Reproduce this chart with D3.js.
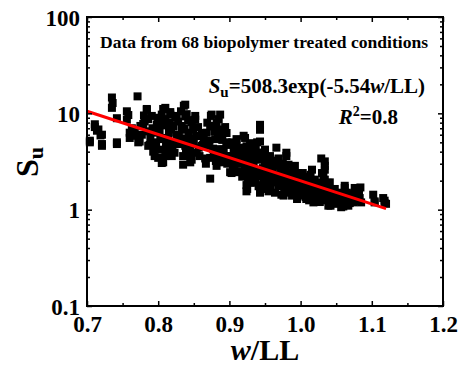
<!DOCTYPE html>
<html>
<head>
<meta charset="utf-8">
<script src="https://cdn.jsdelivr.net/npm/d3@7"></script>
<style>
  body { margin: 0; background: #fff; }
  svg text { font-family: "Liberation Serif", "DejaVu Serif", serif; font-weight: bold; }
</style>
</head>
<body>
<svg id="chart" width="462" height="365"></svg>
<script>
// measured points: [w/LL, Su]
var points = [
  [0.704,5.2],[0.704,5.0],[0.711,7.7],[0.711,7.2],[0.714,6.6],[0.716,6.8],[0.719,5.9],[0.721,6.0],[0.721,4.8],[0.721,4.6],
  [0.735,14.6],[0.735,11.4],[0.736,12.8],[0.742,8.9],[0.742,5.0],[0.742,4.8],
  [0.756,10.5],[0.756,8.6],[0.758,9.6],[0.760,6.3],[0.760,5.55],[0.767,6.5],[0.771,15.0],[0.768,5.85],[0.772,5.0],[0.774,5.1],
  [0.775,7.4],[0.779,7.75],[0.781,8.25],[0.784,10.9],[0.784,11.1],[0.786,8.7],[0.786,6.5],[0.786,4.6],[0.788,4.7],[0.791,9.4],
  [0.793,6.3],[0.793,4.0],[0.795,3.6],[0.798,7.6],[0.800,7.4],[0.800,3.45],
  [0.763,7.0],[0.777,6.0],[0.780,9.5],[0.789,5.5],[0.792,7.0],[0.797,5.0],[0.799,9.0],[0.796,4.3],
  [0.803,5.4],[0.805,9.7],[0.805,5.55],[0.805,3.05],[0.805,4.2],[0.807,11.1],[0.807,8.6],[0.807,3.1],[0.810,11.4],[0.810,8.7],
  [0.810,3.6],[0.812,4.25],[0.814,5.3],[0.815,6.3],[0.817,9.7],[0.817,10.3],[0.819,3.6],[0.821,7.3],[0.821,7.4],[0.824,9.0],
  [0.824,5.0],[0.826,9.4],[0.829,5.85],[0.833,6.75],[0.833,7.4],[0.835,3.6],[0.835,2.93],[0.836,12.0],[0.838,12.3],[0.838,9.3],
  [0.838,4.6],[0.840,5.3],[0.840,9.8],[0.841,3.6],[0.843,6.3],[0.845,4.4],[0.845,3.1],[0.847,8.1],[0.847,3.3],[0.849,6.75],[0.850,5.0],
  [0.802,6.5],[0.809,7.5],[0.811,5.0],[0.813,4.0],[0.816,8.0],[0.818,6.8],[0.820,4.6],[0.823,3.9],[0.826,6.0],[0.828,8.2],
  [0.830,4.8],[0.832,10.5],[0.834,5.5],[0.837,7.0],[0.839,4.0],[0.842,8.5],[0.844,5.5],[0.846,3.7],[0.848,4.8],
  [0.852,8.6],[0.852,9.4],[0.854,5.8],[0.854,3.9],[0.859,5.85],[0.861,6.25],[0.861,4.6],[0.863,4.7],[0.866,3.4],[0.868,6.3],
  [0.871,4.6],[0.873,7.3],[0.873,3.45],[0.873,2.1],[0.875,9.7],[0.874,9.4],[0.876,7.4],[0.878,3.6],[0.880,5.4],[0.882,7.95],
  [0.882,2.85],[0.884,5.55],[0.884,4.0],[0.885,8.7],[0.887,9.7],[0.887,4.25],[0.889,6.3],[0.891,3.1],[0.896,6.25],[0.896,4.7],
  [0.896,5.0],[0.898,3.6],[0.899,3.6],
  [0.856,7.2],[0.857,4.4],[0.858,3.6],[0.864,5.4],[0.867,3.0],[0.869,8.0],[0.872,5.2],[0.877,4.3],[0.879,6.5],[0.881,3.2],
  [0.886,6.8],[0.888,3.6],[0.890,5.3],[0.892,4.2],[0.894,7.2],[0.897,3.0],
  [0.901,2.45],[0.903,2.4],[0.905,2.82],[0.906,4.25],[0.908,3.9],[0.908,3.1],[0.910,4.9],[0.910,5.4],[0.912,3.9],[0.913,2.45],
  [0.915,3.6],[0.915,2.5],[0.920,5.85],[0.922,5.55],[0.922,2.85],[0.924,4.55],[0.924,1.55],[0.924,1.8],[0.925,1.64],[0.927,3.9],
  [0.929,4.9],[0.929,2.25],[0.931,2.93],[0.932,4.6],[0.934,3.1],[0.936,2.2],[0.936,1.92],[0.939,5.0],[0.941,3.9],[0.941,1.75],
  [0.941,2.6],[0.943,7.6],[0.943,6.75],[0.943,5.1],[0.943,1.5],[0.946,3.9],[0.947,2.7],[0.948,2.1],[0.950,4.2],[0.950,3.1],
  [0.902,3.5],[0.904,5.0],[0.907,2.9],[0.911,3.3],[0.914,4.4],[0.917,3.0],[0.918,2.2],[0.919,4.0],[0.921,3.4],[0.923,2.5],
  [0.926,2.1],[0.928,3.5],[0.930,1.9],[0.933,2.5],[0.935,3.6],[0.937,4.2],[0.938,2.4],[0.940,3.3],[0.942,2.2],[0.944,3.4],
  [0.945,1.8],[0.949,2.4],
  [0.952,1.97],[0.952,1.64],[0.955,1.55],[0.955,2.45],[0.957,3.6],[0.959,2.93],[0.960,1.92],[0.962,2.3],[0.962,2.85],[0.964,1.5],
  [0.966,4.4],[0.966,2.25],[0.969,3.3],[0.969,1.75],[0.969,3.4],[0.971,1.77],[0.973,1.43],[0.973,2.6],[0.976,1.4],[0.978,2.2],
  [0.978,2.1],[0.980,3.9],[0.980,3.6],[0.983,2.93],[0.983,1.64],[0.985,1.68],[0.985,2.45],[0.988,1.4],[0.990,2.5],[0.990,1.92],
  [0.992,1.43],[0.992,2.85],[0.995,1.29],[0.997,1.77],[0.999,2.05],[0.999,2.25],
  [0.951,2.6],[0.953,3.3],[0.956,2.1],[0.958,1.75],[0.961,2.6],[0.963,3.2],[0.965,1.95],[0.967,2.9],[0.970,2.0],[0.972,2.4],
  [0.974,1.9],[0.975,3.0],[0.977,1.6],[0.979,2.6],[0.981,1.5],[0.982,2.3],[0.984,1.9],[0.986,2.1],[0.987,1.6],[0.989,2.2],
  [0.991,1.7],[0.993,2.0],[0.994,1.5],[0.996,2.4],[0.998,1.45],
  [1.001,1.6],[1.004,1.4],[1.006,1.77],[1.008,2.2],[1.008,1.29],[1.013,1.43],[1.013,2.1],[1.015,1.8],[1.015,1.4],[1.016,2.6],
  [1.018,1.19],[1.020,2.05],[1.022,1.77],[1.023,1.38],[1.025,1.29],[1.029,3.4],[1.030,2.4],[1.032,2.25],[1.034,3.17],[1.034,2.6],
  [1.034,2.05],[1.034,2.85],[1.036,1.5],[1.039,1.1],[1.041,1.6],[1.041,1.92],[1.043,1.29],[1.046,1.17],[1.048,1.64],[1.050,1.19],
  [1.002,1.9],[1.003,2.4],[1.005,1.55],[1.007,1.35],[1.009,1.9],[1.010,1.5],[1.011,1.65],[1.012,1.25],[1.014,2.3],[1.017,1.55],
  [1.019,1.3],[1.021,1.6],[1.024,1.5],[1.026,1.9],[1.027,1.2],[1.028,1.7],[1.031,1.45],[1.033,1.25],[1.035,1.75],[1.037,1.3],
  [1.038,1.9],[1.040,1.4],[1.042,1.1],[1.044,1.5],[1.045,1.35],[1.047,1.25],[1.049,1.45],
  [1.053,1.38],[1.055,1.4],[1.057,1.06],[1.060,1.08],[1.062,1.68],[1.062,1.77],[1.064,1.29],[1.067,1.1],[1.069,1.17],[1.071,1.4],
  [1.074,1.19],[1.076,1.68],[1.078,1.64],[1.079,1.22],[1.081,1.29],[1.083,1.32],[1.085,1.19],[1.102,1.43],[1.104,1.22],[1.104,1.19],
  [1.116,1.32],[1.118,1.17],[1.120,1.15],[1.118,1.24],
  [1.052,1.15],[1.054,1.25],[1.056,1.5],[1.058,1.3],[1.059,1.15],[1.061,1.45],[1.063,1.15],[1.065,1.5],[1.066,1.2],[1.068,1.35],
  [1.070,1.25],[1.072,1.3],[1.075,1.45],[1.077,1.35],[1.080,1.4],[1.082,1.5],[1.084,1.7]
];

// fit: Su = a * exp(b * w/LL), drawn over this range
var fitA = 508.3, fitB = -5.54;
var fitRange = [0.7, 1.12];

var xTicks = [0.7, 0.8, 0.9, 1.0, 1.1, 1.2];
var xMinor = [0.75, 0.85, 0.95, 1.05, 1.15];
var yTicks = [0.1, 1, 10, 100];

var svg = d3.select("#chart"),
    margin = {top: 17, right: 19, bottom: 59, left: 87},
    width = +svg.attr("width"),
    height = +svg.attr("height");

var x = d3.scaleLinear()
    .domain([0.7, 1.2])
    .range([margin.left, width - margin.right]);

var y = d3.scaleLog()
    .domain([0.1, 100])
    .range([height - margin.bottom, margin.top]);

var yMinor = [];
[0.1, 1, 10].forEach(function(dec) {
    for (var k = 2; k <= 9; k++) yMinor.push(dec * k);
});

// points
svg.append("g")
    .selectAll("rect")
    .data(points)
    .enter().append("rect")
    .attr("x", d => x(d[0]) - 4)
    .attr("y", d => y(d[1]) - 4)
    .attr("width", 8)
    .attr("height", 8)
    .attr("fill", "#000");

// fit line
var line = d3.line()
    .x(d => x(d))
    .y(d => y(fitA * Math.exp(fitB * d)));

svg.append("path")
    .datum(fitRange)
    .attr("d", line)
    .attr("fill", "none")
    .attr("stroke", "#f00")
    .attr("stroke-width", 3);

var bottomY = height - margin.bottom,
    rightX = width - margin.right;

function styleAxis(g) {
    g.attr("font-family", null).attr("font-size", null);
    g.select(".domain").remove();
    g.selectAll(".tick line").attr("stroke", "#000").attr("stroke-width", 1.5);
    g.selectAll("text").attr("fill", "#000").style("font-size", "23px");
}

// bottom
svg.append("g")
    .attr("transform", "translate(0," + bottomY + ")")
    .call(d3.axisBottom(x).tickValues(xTicks).tickSizeInner(-5).tickSizeOuter(0)
        .tickPadding(10).tickFormat(d3.format(".1f")))
    .call(styleAxis);
svg.append("g")
    .attr("transform", "translate(0," + bottomY + ")")
    .call(d3.axisBottom(x).tickValues(xMinor).tickSizeInner(-3).tickSizeOuter(0).tickFormat(""))
    .call(styleAxis);

// top
svg.append("g")
    .attr("transform", "translate(0," + margin.top + ")")
    .call(d3.axisTop(x).tickValues(xTicks).tickSizeInner(-5).tickSizeOuter(0).tickFormat(""))
    .call(styleAxis);
svg.append("g")
    .attr("transform", "translate(0," + margin.top + ")")
    .call(d3.axisTop(x).tickValues(xMinor).tickSizeInner(-3).tickSizeOuter(0).tickFormat(""))
    .call(styleAxis);

// left
svg.append("g")
    .attr("transform", "translate(" + margin.left + ",0)")
    .call(d3.axisLeft(y).tickValues(yTicks).tickSizeInner(-5).tickSizeOuter(0)
        .tickPadding(7).tickFormat(d => String(d)))
    .call(styleAxis)
    .selectAll("text").attr("dy", "0.36em");
svg.append("g")
    .attr("transform", "translate(" + margin.left + ",0)")
    .call(d3.axisLeft(y).tickValues(yMinor).tickSizeInner(-3).tickSizeOuter(0).tickFormat(""))
    .call(styleAxis);

// right
svg.append("g")
    .attr("transform", "translate(" + rightX + ",0)")
    .call(d3.axisRight(y).tickValues(yTicks).tickSizeInner(-5).tickSizeOuter(0).tickFormat(""))
    .call(styleAxis);
svg.append("g")
    .attr("transform", "translate(" + rightX + ",0)")
    .call(d3.axisRight(y).tickValues(yMinor).tickSizeInner(-3).tickSizeOuter(0).tickFormat(""))
    .call(styleAxis);

// frame
svg.append("rect")
    .attr("x", margin.left)
    .attr("y", margin.top)
    .attr("width", rightX - margin.left)
    .attr("height", bottomY - margin.top)
    .attr("fill", "none")
    .attr("stroke", "#000")
    .attr("stroke-width", 2);

// axis titles
var xt = svg.append("text")
    .attr("x", (margin.left + rightX) / 2)
    .attr("y", 360)
    .attr("text-anchor", "middle")
    .style("font-size", "30px");
xt.append("tspan").style("font-style", "italic").text("w");
xt.append("tspan").text("/LL");

var yt = svg.append("text")
    .attr("transform", "translate(38,162) rotate(-90)")
    .attr("text-anchor", "middle")
    .style("font-size", "32px");
yt.append("tspan").text("S");
yt.append("tspan").attr("dy", 5).style("font-size", "22px").text("u");

// annotations
svg.append("text")
    .attr("x", 100)
    .attr("y", 48)
    .attr("textLength", 328)
    .attr("lengthAdjust", "spacingAndGlyphs")
    .style("font-size", "16.5px")
    .text("Data from 68 biopolymer treated conditions");

var eq = svg.append("text")
    .attr("x", 425)
    .attr("y", 93)
    .attr("text-anchor", "end")
    .style("font-size", "21px");
eq.append("tspan").style("font-style", "italic").text("S");
eq.append("tspan").attr("dy", 4).style("font-size", "15px").text("u");
eq.append("tspan").attr("dy", -4).text("=508.3exp(-5.54");
eq.append("tspan").style("font-style", "italic").text("w");
eq.append("tspan").text("/LL)");

var r2 = svg.append("text")
    .attr("x", 398)
    .attr("y", 124)
    .attr("text-anchor", "end")
    .style("font-size", "21px");
r2.append("tspan").style("font-style", "italic").text("R");
r2.append("tspan").attr("dy", -8).style("font-size", "14px").text("2");
r2.append("tspan").attr("dy", 8).text("=0.8");
</script>
</body>
</html>
